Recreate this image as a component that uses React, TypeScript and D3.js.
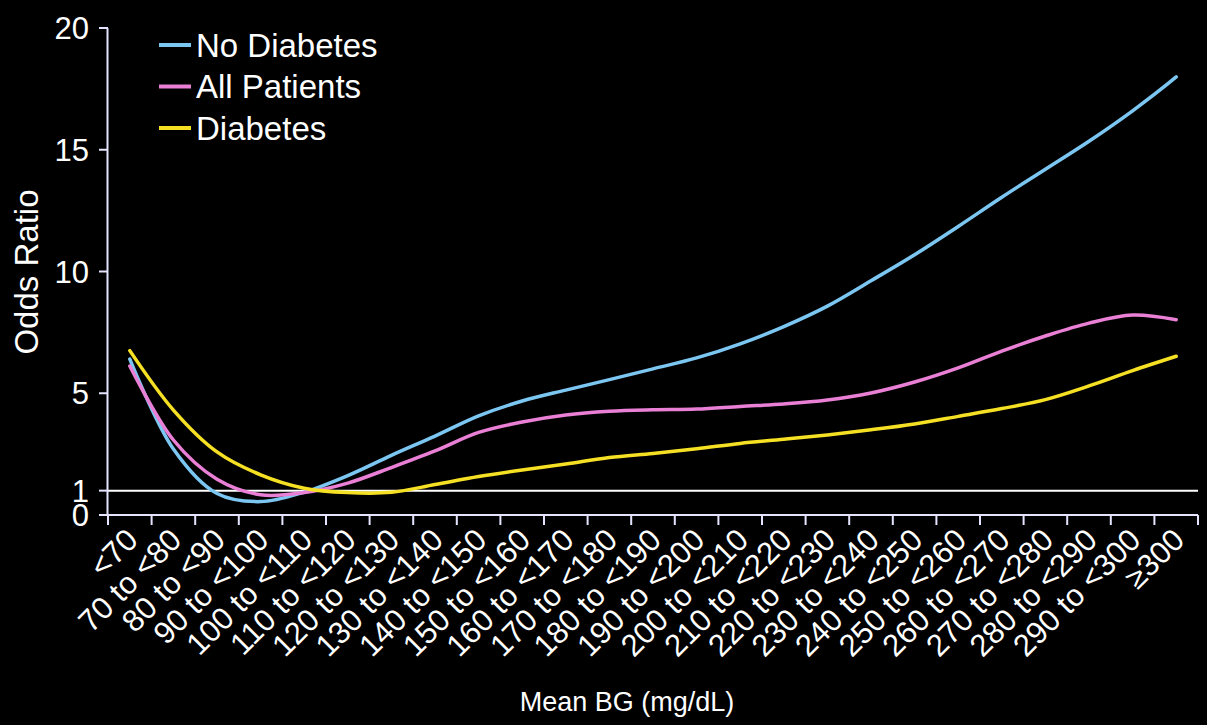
import React from "react";
import * as d3 from "d3";

const categories: string[] = [
  "<70", "70 to <80", "80 to <90", "90 to <100", "100 to <110", "110 to <120",
  "120 to <130", "130 to <140", "140 to <150", "150 to <160", "160 to <170",
  "170 to <180", "180 to <190", "190 to <200", "200 to <210", "210 to <220",
  "220 to <230", "230 to <240", "240 to <250", "250 to <260", "260 to <270",
  "270 to <280", "280 to <290", "290 to <300", "\u2265300",
];

const noDiabetes: number[] = [
  6.4, 2.71, 0.88, 0.55, 0.94, 1.62, 2.45, 3.24, 4.07, 4.68, 5.13, 5.56, 6.0,
  6.45, 7.03, 7.74, 8.58, 9.62, 10.69, 11.85, 13.05, 14.2, 15.35, 16.6, 17.99,
];
const allPatients: number[] = [
  6.12, 3.08, 1.47, 0.83, 0.92, 1.31, 1.95, 2.63, 3.39, 3.82, 4.11, 4.26, 4.32,
  4.35, 4.46, 4.56, 4.72, 5.01, 5.46, 6.04, 6.73, 7.35, 7.88, 8.21, 8.02,
];
const diabetes: number[] = [
  6.75, 4.31, 2.59, 1.65, 1.1, 0.92, 0.93, 1.25, 1.58, 1.85, 2.09, 2.36, 2.53,
  2.72, 2.94, 3.11, 3.29, 3.5, 3.74, 4.05, 4.37, 4.74, 5.3, 5.93, 6.52,
];

const yTicks: number[] = [0, 1, 5, 10, 15, 20];

const seriesNames: string[] = ["No Diabetes", "All Patients", "Diabetes"];
const seriesColors: string[] = ["#7cc6f2", "#ea7fd6", "#f6e024"];
const seriesValues: number[][] = [noDiabetes, allPatients, diabetes];

const W = 1207;
const H = 725;
const FONT = "'Liberation Sans', Arial, Helvetica, sans-serif";
const AXIS = "#e4e4ff";

export default function App() {
  const x = d3.scaleBand<string>().domain(categories).range([108, 1198]).padding(0);
  const y = d3.scaleLinear().domain([0, 20]).range([515, 28]);
  const cx = (c: string) => (x(c) as number) + x.bandwidth() / 2;

  const line = d3
    .line<number>()
    .x((_, i) => cx(categories[i]))
    .y((d) => y(d))
    .curve(d3.curveCatmullRom.alpha(0.5));

  const x0 = x.range()[0];
  const x1 = x.range()[1];
  const boundaries = categories.map((c) => x(c) as number).concat([x1]);

  return (
    <svg
      width={W}
      height={H}
      style={{ position: "absolute", left: 0, top: 0, background: "#000", display: "block" }}
      fontFamily={FONT}
    >
      <rect x={0} y={0} width={W} height={H} fill="#000" />

      {/* reference line at OR = 1 */}
      <line x1={x0} x2={x1} y1={y(1)} y2={y(1)} stroke="#ffffff" strokeWidth={2} />

      {/* series */}
      {seriesValues.map((vals, si) => (
        <path
          key={seriesNames[si]}
          d={line(vals) || ""}
          fill="none"
          stroke={seriesColors[si]}
          strokeWidth={3.5}
          strokeLinejoin="round"
          strokeLinecap="round"
        />
      ))}

      {/* y axis */}
      <line x1={x0 - 0.5} x2={x0 - 0.5} y1={y(0)} y2={y(20)} stroke={AXIS} strokeWidth={2} />
      {yTicks.map((t) => (
        <g key={"yt" + t}>
          <line x1={x0 - 9} x2={x0} y1={y(t)} y2={y(t)} stroke={AXIS} strokeWidth={2} />
          <text
            x={89}
            y={y(t)}
            dy="0.36em"
            textAnchor="end"
            fill="#fff"
            fontSize={31}
          >
            {t}
          </text>
        </g>
      ))}

      {/* x axis */}
      <line x1={x0 - 1} x2={x1} y1={y(0)} y2={y(0)} stroke={AXIS} strokeWidth={2} />
      {boundaries.map((b, i) => (
        <line key={"xt" + i} x1={b} x2={b} y1={y(0)} y2={y(0) + 10} stroke={AXIS} strokeWidth={2} />
      ))}
      {categories.map((c) => (
        <text
          key={"xl" + c}
          transform={`translate(${cx(c) + 2},${y(0) + 19}) rotate(-45)`}
          dy="0.36em"
          textAnchor="end"
          fill="#fff"
          fontSize={31}
        >
          {c}
        </text>
      ))}

      {/* axis titles */}
      <text
        transform={`translate(38,272) rotate(-90)`}
        textAnchor="middle"
        fill="#fff"
        fontSize={33}
      >
        Odds Ratio
      </text>
      <text x={627} y={711} textAnchor="middle" fill="#fff" fontSize={27}>
        Mean BG (mg/dL)
      </text>

      {/* legend */}
      {seriesNames.map((n, i) => {
        const ly = 45 + i * 41.5;
        return (
          <g key={"lg" + n}>
            <line x1={159} x2={191} y1={ly} y2={ly} stroke={seriesColors[i]} strokeWidth={4} />
            <text x={196} y={ly} dy="0.36em" fill="#fff" fontSize={33}>
              {n}
            </text>
          </g>
        );
      })}
    </svg>
  );
}
